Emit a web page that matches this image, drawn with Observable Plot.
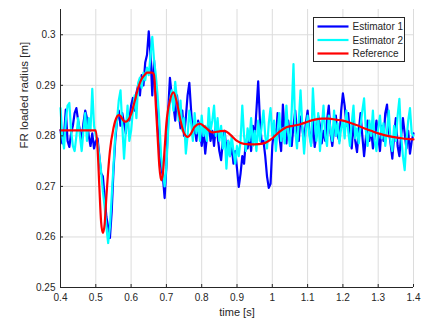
<!DOCTYPE html>
<html><head><meta charset="utf-8">
<script src="https://cdn.jsdelivr.net/npm/d3@7"></script>
<script src="https://cdn.jsdelivr.net/npm/@observablehq/plot@0.6"></script>
<style>body{margin:0;background:#fff}</style>
</head><body><div id="chart"></div>
<script>
// sampling of the estimators
const t0 = 0.4, dt = 0.005;
const estimator1 = [
0.2812,0.2785,0.2800,0.2852,0.2790,0.2778,0.2805,0.2820,0.2845,0.2855,
0.2830,0.2810,0.2790,0.2825,0.2850,0.2835,0.2800,0.2780,0.2805,0.2775,
0.2790,0.2795,0.2760,0.2726,0.2720,0.2680,0.2640,0.2620,0.2598,0.2650,
0.2730,0.2790,0.2830,0.2850,0.2820,0.2845,0.2825,0.2805,0.2845,0.2830,
0.2860,0.2875,0.2850,0.2885,0.2900,0.2880,0.2920,0.2900,0.2945,0.2960,
0.3007,0.2960,0.2880,0.2950,0.2890,0.2820,0.2770,0.2740,0.2720,0.2677,
0.2740,0.2850,0.2915,0.2880,0.2860,0.2830,0.2880,0.2845,0.2815,0.2850,
0.2800,0.2835,0.2880,0.2905,0.2850,0.2800,0.2820,0.2790,0.2830,0.2815,
0.2780,0.2810,0.2765,0.2800,0.2830,0.2790,0.2810,0.2780,0.2820,0.2800,
0.2770,0.2752,0.2790,0.2810,0.2770,0.2790,0.2760,0.2780,0.2745,0.2770,
0.2735,0.2699,0.2725,0.2760,0.2745,0.2790,0.2775,0.2800,0.2770,0.2820,
0.2795,0.2850,0.2908,0.2830,0.2785,0.2790,0.2760,0.2720,0.2697,0.2705,
0.2780,0.2815,0.2790,0.2845,0.2800,0.2770,0.2862,0.2810,0.2785,0.2830,
0.2800,0.2780,0.2820,0.2850,0.2805,0.2790,0.2838,0.2815,0.2790,0.2825,
0.2850,0.2810,0.2785,0.2830,0.2778,0.2800,0.2840,0.2820,0.2785,0.2810,
0.2790,0.2830,0.2860,0.2805,0.2780,0.2815,0.2840,0.2800,0.2790,0.2850,
0.2884,0.2860,0.2820,0.2845,0.2800,0.2775,0.2830,0.2790,0.2768,0.2810,
0.2845,0.2800,0.2760,0.2795,0.2830,0.2790,0.2815,0.2775,0.2800,0.2830,
0.2800,0.2770,0.2820,0.2790,0.2845,0.2862,0.2810,0.2785,0.2755,0.2800,
0.2835,0.2780,0.2760,0.2800,0.2835,0.2805,0.2775,0.2810,0.2765,0.2790,
0.2805];
const estimator2 = [
0.2855,0.2800,0.2775,0.2830,0.2860,0.2865,0.2810,0.2780,0.2770,0.2800,
0.2835,0.2800,0.2770,0.2810,0.2845,0.2790,0.2835,0.2810,0.2893,0.2820,
0.2800,0.2785,0.2760,0.2730,0.2690,0.2660,0.2620,0.2588,0.2620,0.2680,
0.2740,0.2800,0.2830,0.2870,0.2890,0.2820,0.2755,0.2810,0.2860,0.2790,
0.2810,0.2850,0.2880,0.2835,0.2905,0.2915,0.2895,0.2925,0.2910,0.2935,
0.2920,0.2960,0.2996,0.2950,0.2920,0.2880,0.2830,0.2760,0.2730,0.2700,
0.2740,0.2810,0.2870,0.2890,0.2850,0.2907,0.2870,0.2830,0.2870,0.2810,
0.2835,0.2765,0.2800,0.2850,0.2825,0.2790,0.2845,0.2805,0.2825,0.2790,
0.2840,0.2800,0.2820,0.2790,0.2855,0.2810,0.2830,0.2860,0.2800,0.2835,
0.2790,0.2820,0.2775,0.2805,0.2735,0.2790,0.2760,0.2800,0.2770,0.2745,
0.2780,0.2760,0.2790,0.2860,0.2800,0.2770,0.2815,0.2790,0.2835,0.2780,
0.2810,0.2770,0.2830,0.2790,0.2820,0.2850,0.2800,0.2775,0.2825,0.2855,
0.2800,0.2830,0.2770,0.2810,0.2845,0.2790,0.2815,0.2785,0.2860,0.2805,
0.2780,0.2850,0.2942,0.2810,0.2775,0.2830,0.2890,0.2820,0.2765,0.2810,
0.2840,0.2800,0.2780,0.2894,0.2830,0.2790,0.2845,0.2770,0.2815,0.2860,
0.2800,0.2780,0.2840,0.2810,0.2790,0.2850,0.2800,0.2825,0.2785,0.2815,
0.2830,0.2795,0.2850,0.2810,0.2780,0.2825,0.2860,0.2795,0.2815,0.2785,
0.2820,0.2850,0.2874,0.2810,0.2780,0.2830,0.2800,0.2850,0.2790,0.2770,
0.2815,0.2840,0.2795,0.2825,0.2780,0.2810,0.2850,0.2790,0.2770,0.2820,
0.2790,0.2840,0.2873,0.2800,0.2760,0.2732,0.2790,0.2830,0.2855,0.2805,
0.2800];
const refTime = [0.40,0.50,0.505,0.51,0.515,0.52,0.525,0.53,0.535,0.54,0.55,0.56,0.565,0.57,0.58,0.585,0.59,0.60,0.61,0.62,0.63,0.64,0.645,0.66,0.665,0.67,0.675,0.68,0.685,0.69,0.695,0.70,0.71,0.72,0.73,0.74,0.75,0.76,0.77,0.78,0.795,0.81,0.83,0.85,0.865,0.88,0.90,0.92,0.95,0.975,1.0,1.02,1.04,1.06,1.08,1.10,1.12,1.14,1.16,1.18,1.20,1.22,1.24,1.26,1.28,1.30,1.32,1.34,1.36,1.38,1.40];
const refValue = [0.2811,0.2811,0.2775,0.2700,0.2630,0.2608,0.2625,0.2680,0.2730,0.2770,0.2815,0.2838,0.2841,0.2839,0.2829,0.2828,0.2830,0.2843,0.2868,0.2895,0.2913,0.2922,0.2925,0.2925,0.2920,0.2860,0.2800,0.2740,0.2712,0.2725,0.2775,0.2825,0.2870,0.2886,0.2865,0.2830,0.2805,0.2798,0.2805,0.2818,0.2824,0.2817,0.2807,0.2809,0.2810,0.2803,0.2790,0.2784,0.2783,0.2785,0.2795,0.2808,0.2817,0.2820,0.2823,0.2828,0.2832,0.2834,0.2834,0.2832,0.2830,0.2826,0.2821,0.2815,0.2810,0.2805,0.2801,0.2798,0.2796,0.2794,0.2793];
const xTicks = [0.4,0.5,0.6,0.7,0.8,0.9,1.0,1.1,1.2,1.3,1.4];
const xTickLabels = ["0.4","0.5","0.6","0.7","0.8","0.9","1","1.1","1.2","1.3","1.4"];
const yTicks = [0.25,0.26,0.27,0.28,0.29,0.30];
const yTickLabels = ["0.25","0.26","0.27","0.28","0.29","0.3"];
const seriesNames = ["Estimator 1","Estimator 2","Reference"];
const seriesColors = ["#0000ff","#00ffff","#ff0000"];
const xLabel = "time [s]";
const yLabel = "FR loaded radius [m]";

const est1 = estimator1.map((v,i)=>({t: t0 + i*dt, v}));
const est2 = estimator2.map((v,i)=>({t: t0 + i*dt, v}));
const ref = refTime.map((t,i)=>({t, v: refValue[i]}));

const W = 435, H = 325, mL = 60, mR = 22, mT = 9, mB = 38;
const axisColor = "#262626";
const plot = Plot.plot({
  width: W, height: H, marginLeft: mL, marginRight: mR, marginTop: mT, marginBottom: mB,
  x: {domain: [0.4, 1.4]},
  y: {domain: [0.25, 0.305]},
  style: {fontFamily: "'Liberation Sans', Arial, sans-serif", fontSize: "10px", color: axisColor, background: "#fff"},
  marks: [
    Plot.ruleX(xTicks, {stroke: "#dcdcdc", strokeWidth: 1}),
    Plot.ruleY(yTicks, {stroke: "#dcdcdc", strokeWidth: 1}),
    Plot.line(est1, {x: "t", y: "v", stroke: seriesColors[0], strokeWidth: 2.2}),
    Plot.line(est2, {x: "t", y: "v", stroke: seriesColors[1], strokeWidth: 2.2}),
    Plot.line(ref, {x: "t", y: "v", stroke: seriesColors[2], strokeWidth: 2.2, curve: "monotone-x"}),
    Plot.ruleX(xTicks, {stroke: axisColor, insetTop: H - mT - mB - 3}),
    Plot.ruleY(yTicks, {stroke: axisColor, insetRight: W - mL - mR - 3}),
    Plot.ruleX([0.4], {stroke: axisColor}),
    Plot.ruleY([0.25], {stroke: axisColor}),
    Plot.axisX({ticks: xTicks, tickFormat: d => xTickLabels[xTicks.indexOf(d)], tickSize: 0, tickPadding: 6, label: null}),
    Plot.axisY({ticks: yTicks, tickFormat: d => yTickLabels[yTicks.indexOf(d)], tickSize: 0, tickPadding: 5, label: null}),
    Plot.text([xLabel], {frameAnchor: "bottom", dy: 28, text: d => d, fontSize: 11, fill: axisColor}),
    Plot.text([yLabel], {frameAnchor: "left", dx: -36, rotate: -90, text: d => d, fontSize: 11.5, fill: axisColor})
  ]
});

const svg = d3.select(plot);
const lg = svg.append("g").attr("transform", "translate(313.5,17.5)");
lg.append("rect").attr("x", 0).attr("y", 0).attr("width", 91).attr("height", 44)
  .style("fill", "#ffffff").style("stroke", axisColor).style("stroke-width", "1px");
seriesNames.forEach((name, i) => {
  const y = 9 + i * 13.5;
  lg.append("line").attr("x1", 4).attr("x2", 35).attr("y1", y).attr("y2", y)
    .style("stroke", seriesColors[i]).style("stroke-width", "2.2px");
  lg.append("text").attr("x", 39).attr("y", y).attr("dy", "0.35em")
    .attr("text-anchor", "start").attr("font-size", 10).style("fill", axisColor).text(name);
});
document.getElementById("chart").appendChild(plot);
</script>
</body></html>
